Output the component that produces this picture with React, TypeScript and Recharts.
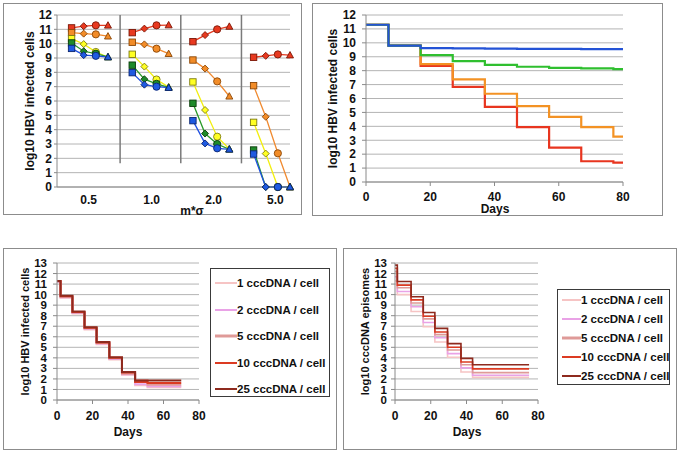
import React from "react";
import {
  LineChart,
  Line,
  XAxis,
  YAxis,
  CartesianGrid,
  ReferenceLine,
  Legend,
} from "recharts";

const FONT = '"Liberation Sans", Arial, Helvetica, sans-serif';
const GRID = "#b4b4b4";
const AXIS = "#8a8a8a";

// ---- panel A: log10 infected cells by m*sigma group, four markers per group
const doseLabels = ["0.5", "1.0", "2.0", "5.0"];
const doseTickPos = [2.6, 7.8, 12.9, 18.0];
const separatorPos = [5.2, 10.2, 15.2];
const redA = [11.1, 11.22, 11.28, 11.28, 10.77, 11.05, 11.28, 11.3, 10.14, 10.6, 11.0, 11.2, 9.05, 9.15, 9.25, 9.2];
const orangeA = [10.77, 10.7, 10.65, 10.52, 10.1, 9.95, 9.65, 9.3, 8.86, 8.26, 7.37, 6.33, 7.07, 4.9, 2.35, 0];
const yellowA = [10.35, 9.97, 9.42, 9.07, 9.26, 8.4, 7.5, 6.97, 7.33, 5.37, 3.51, 2.65, 4.51, 2.33, 0, 0];
const greenA = [10.05, 9.47, 9.3, 9.07, 8.5, 7.52, 7.2, 6.95, 5.84, 3.73, 3.0, 2.63, 2.58, 0, 0, 0];
const blueA = [9.67, 9.2, 9.15, 9.07, 7.98, 7.14, 7.0, 6.93, 4.63, 3.04, 2.7, 2.63, 2.3, 0, 0, 0];

// ---- panel B: step curves over days
const daysB = [0, 7, 17, 27, 37, 47, 57, 67, 77, 80];
const redB = [11.3, 9.8, 8.35, 6.84, 5.4, 3.94, 2.47, 1.49, 1.39, 1.39];
const orangeB = [11.3, 9.8, 8.47, 7.37, 6.34, 5.45, 4.68, 3.94, 3.26, 3.26];
const greenB = [11.3, 9.8, 9.12, 8.69, 8.42, 8.28, 8.2, 8.16, 8.11, 8.11];
const blueB = [11.3, 9.8, 9.62, 9.6, 9.58, 9.57, 9.56, 9.55, 9.55, 9.55];

// ---- panel C: infected cells per cccDNA copy number
const daysC = [0, 2, 8.7, 15.5, 22.3, 29.5, 36.6, 44, 51, 70];
const cells1 = [11.2, 9.7, 8.2, 6.7, 5.3, 3.85, 2.4, 1.4, 1.2, 1.2];
const cells2 = [11.2, 9.75, 8.25, 6.75, 5.35, 3.9, 2.45, 1.5, 1.3, 1.3];
const cells5 = [11.25, 9.8, 8.3, 6.8, 5.4, 3.95, 2.5, 1.9, 1.45, 1.45];
const cells10 = [11.3, 9.85, 8.35, 6.85, 5.45, 4.0, 2.6, 1.7, 1.62, 1.62];
const cells25 = [11.3, 9.9, 8.4, 6.9, 5.5, 4.05, 2.65, 1.85, 1.85, 1.85];

// ---- panel D: cccDNA episomes per copy number
const daysD = [0, 1.3, 9, 15.8, 22.3, 29.4, 36.9, 43.4, 75];
const epi1 = [11.3, 10.0, 8.4, 6.95, 5.5, 4.05, 2.65, 2.15, 2.15];
const epi2 = [11.7, 10.3, 8.85, 7.35, 5.9, 4.4, 3.05, 2.35, 2.35];
const epi5 = [12.2, 10.65, 9.2, 7.7, 6.2, 4.75, 3.35, 2.6, 2.6];
const epi10 = [12.5, 10.9, 9.5, 7.95, 6.45, 5.0, 3.6, 2.95, 2.95];
const epi25 = [12.8, 11.25, 9.8, 8.3, 6.8, 5.35, 3.95, 3.35, 3.35];

const copyNames = ["1 cccDNA / cell", "2 cccDNA / cell", "5 cccDNA / cell", "10 cccDNA / cell", "25 cccDNA / cell"];
const copyColors = ["#f6c4c4", "#e9a2e6", "#df9a98", "#dc3b22", "#8e2a1e"];

const ticks12 = [0, 1, 2, 3, 4, 5, 6, 7, 8, 9, 10, 11, 12];
const ticks13 = [...ticks12, 13];
const dayTicks = [0, 20, 40, 60, 80];

// build tables
const rowsA: any[] = [];
doseLabels.forEach((_, g) => {
  for (let p = 0; p < 4; p++) {
    const i = g * 4 + p;
    rowsA.push({ x: g * 5 + p + 1.2, p, red: redA[i], orange: orangeA[i], yellow: yellowA[i], green: greenA[i], blue: blueA[i] });
  }
  if (g < doseLabels.length - 1) rowsA.push({ x: g * 5 + 5.2, p: -1 }); // break between groups
});

const rowsB = daysB.map((d, i) => ({ day: d, red: redB[i], orange: orangeB[i], green: greenB[i], blue: blueB[i] }));
const seriesC = [cells1, cells2, cells5, cells10, cells25];
const rowsC = daysC.map((d, i) => {
  const r: any = { day: d };
  seriesC.forEach((s, k) => (r["s" + k] = s[i]));
  return r;
});
const seriesD = [epi1, epi2, epi5, epi10, epi25];
const rowsD = daysD.map((d, i) => {
  const r: any = { day: d };
  seriesD.forEach((s, k) => (r["s" + k] = s[i]));
  return r;
});

const styleA = [
  { key: "red", line: "#e23a20", fill: "#e8391f", edge: "#7a1606" },
  { key: "orange", line: "#f08a30", fill: "#f28c28", edge: "#8a4606" },
  { key: "yellow", line: "#f2ee10", fill: "#ffff22", edge: "#7d7a10" },
  { key: "green", line: "#2a9a2a", fill: "#1e8a2a", edge: "#0b3d0b" },
  { key: "blue", line: "#2050e0", fill: "#1f5ae0", edge: "#0b2570" },
];

const tickFont = { fill: "#111", fontSize: 12, fontWeight: 700, fontFamily: FONT };
const tickFontSm = { ...tickFont, fontSize: 11.5 };

function marker(fill: string, edge: string) {
  return (props: any) => {
    const { cx, cy, payload, index } = props;
    if (cx == null || cy == null || payload.p < 0) return <g key={index} />;
    const sw = 0.9;
    if (payload.p === 0)
      return <rect key={index} x={cx - 3.2} y={cy - 3.2} width={6.4} height={6.4} fill={fill} stroke={edge} strokeWidth={sw} />;
    if (payload.p === 1)
      return <polygon key={index} points={`${cx},${cy - 3.5} ${cx + 3.5},${cy} ${cx},${cy + 3.5} ${cx - 3.5},${cy}`} fill={fill} stroke={edge} strokeWidth={sw} />;
    if (payload.p === 2) return <circle key={index} cx={cx} cy={cy} r={3.6} fill={fill} stroke={edge} strokeWidth={sw} />;
    return <polygon key={index} points={`${cx},${cy - 3.6} ${cx + 3.5},${cy + 2.8} ${cx - 3.5},${cy + 2.8}`} fill={fill} stroke={edge} strokeWidth={sw} />;
  };
}

function yTitle(text: string, x: number, size: number) {
  return {
    content: (props: any) => {
      const vb = props.viewBox || {};
      const cy = vb.y + vb.height / 2;
      return (
        <text x={x} y={cy} transform={`rotate(-90 ${x} ${cy})`} textAnchor="middle" dominantBaseline="central"
          style={{ fontFamily: FONT, fontWeight: 700, fontSize: size, fill: "#111" }}>
          {text}
        </text>
      );
    },
  };
}

function xTitle(text: string, x: number, y: number, size: number) {
  return {
    content: () => (
      <text x={x} y={y} textAnchor="middle" style={{ fontFamily: FONT, fontWeight: 700, fontSize: size, fill: "#111" }}>
        {text}
      </text>
    ),
  };
}

function legendBox(w: number, h: number, rowH: number, padTop: number, lineW: number) {
  return (props: any) => {
    const items = [...(props.payload || [])].sort(
      (a: any, b: any) => copyNames.indexOf(a.value) - copyNames.indexOf(b.value)
    );
    return (
      <div style={{ width: w, height: h, boxSizing: "border-box", border: "1px solid #3a3a3a", background: "#fff", paddingTop: padTop, paddingLeft: 4 }}>
        {items.map((e: any) => (
          <div key={e.value} style={{ display: "flex", alignItems: "center", height: rowH }}>
            <svg width={lineW} height={6} style={{ flex: "none" }}>
              <line x1={0} y1={3} x2={lineW} y2={3} stroke={e.color} strokeWidth={e.value.startsWith("5 ") ? 3 : 2} />
            </svg>
            <span style={{ fontFamily: FONT, fontWeight: 700, fontSize: 11.5, color: "#111", whiteSpace: "nowrap" }}>{e.value}</span>
          </div>
        ))}
      </div>
    );
  };
}

const frame = (left: number, top: number, width: number, height: number): React.CSSProperties => ({
  position: "absolute", left, top, width, height, boxSizing: "border-box", border: "1px solid #8c8c8c", background: "#fff",
});
const at = (left: number, top: number): React.CSSProperties => ({ position: "absolute", left, top });

export default function App() {
  return (
    <div style={{ position: "absolute", left: 0, top: 0, width: 680, height: 455, background: "#fff", overflow: "hidden" }}>
      <div style={frame(3, 3, 299, 212)} />
      <div style={frame(312, 3, 351, 213)} />
      <div style={frame(3, 248, 334, 202)} />
      <div style={frame(343, 248, 334, 202)} />

      {/* A */}
      <div style={at(0, 0)}>
        <LineChart width={310} height={222} data={rowsA} margin={{ top: 15, right: 20, bottom: 0, left: 17 }}>
          <CartesianGrid vertical={false} stroke={GRID} />
          <XAxis type="number" dataKey="x" domain={[0, 19.2]} ticks={doseTickPos} interval={0}
            tickFormatter={(v: number) => doseLabels[doseTickPos.indexOf(v)]} tickLine={false} tickSize={0} tickMargin={8}
            height={35} stroke={AXIS} tick={tickFont} label={xTitle("m*σ", 192, 215, 12)} />
          <YAxis type="number" domain={[0, 12]} ticks={ticks12} interval={0} width={40} tickSize={3} tickMargin={2}
            stroke={AXIS} tick={tickFont} label={yTitle("log10 HBV infected cells", 30, 12)} />
          {separatorPos.map((s) => (
            <ReferenceLine key={s} segment={[{ x: s, y: 1.65 }, { x: s, y: 12 }]} stroke="#7a7a7a" strokeWidth={1.5} />
          ))}
          {styleA.map((s) => (
            <Line key={s.key} dataKey={s.key} stroke={s.line} strokeWidth={1.3} dot={marker(s.fill, s.edge)}
              activeDot={false} isAnimationActive={false} />
          ))}
        </LineChart>
      </div>

      {/* B */}
      <div style={at(312, 0)}>
        <LineChart width={360} height={222} data={rowsB} margin={{ top: 15, right: 49, bottom: 0, left: 14 }}>
          <CartesianGrid vertical={false} stroke={GRID} />
          <XAxis type="number" dataKey="day" domain={[0, 80]} ticks={dayTicks} interval={0} tickSize={4} tickMargin={6}
            height={40} stroke={AXIS} tick={tickFont} label={xTitle("Days", 183, 213, 12)} />
          <YAxis type="number" domain={[0, 12]} ticks={ticks12} interval={0} width={40} tickSize={4} tickMargin={6}
            stroke={AXIS} tick={tickFont} label={yTitle("log10 HBV infected cells", 21, 12)} />
          <Line type="stepAfter" dataKey="red" stroke="#e8351f" strokeWidth={2.2} dot={false} activeDot={false} isAnimationActive={false} />
          <Line type="stepAfter" dataKey="orange" stroke="#f39224" strokeWidth={2.2} dot={false} activeDot={false} isAnimationActive={false} />
          <Line type="stepAfter" dataKey="green" stroke="#2fbf2f" strokeWidth={2.2} dot={false} activeDot={false} isAnimationActive={false} />
          <Line type="stepAfter" dataKey="blue" stroke="#2453d6" strokeWidth={2.2} dot={false} activeDot={false} isAnimationActive={false} />
        </LineChart>
      </div>

      {/* C */}
      <div style={at(0, 240)}>
        <LineChart width={340} height={215} data={rowsC} margin={{ top: 23, right: 141, bottom: 0, left: 17 }}>
          <CartesianGrid vertical={false} stroke={GRID} />
          <XAxis type="number" dataKey="day" domain={[0, 80]} ticks={dayTicks} interval={0} tickSize={4} tickMargin={7}
            height={55} stroke={AXIS} tick={tickFont} label={xTitle("Days", 128, 196, 12)} />
          <YAxis type="number" domain={[0, 13]} ticks={ticks13} interval={0} width={40} tickSize={4} tickMargin={6}
            stroke={AXIS} tick={tickFontSm} label={yTitle("log10 HBV infected cells", 25, 11)} />
          <Legend layout="vertical" align="center" verticalAlign="middle" wrapperStyle={{ left: 210, top: 28 }}
            content={legendBox(120, 129, 26.5, 1, 22)} />
          {copyNames.map((n, k) => (
            <Line key={n} name={n} type="stepAfter" dataKey={"s" + k} stroke={copyColors[k]} strokeWidth={2}
              dot={false} activeDot={false} isAnimationActive={false} />
          ))}
        </LineChart>
      </div>

      {/* D */}
      <div style={at(340, 240)}>
        <LineChart width={340} height={215} data={rowsD} margin={{ top: 23, right: 142, bottom: 0, left: 15 }}>
          <CartesianGrid vertical={false} stroke={GRID} />
          <XAxis type="number" dataKey="day" domain={[0, 80]} ticks={dayTicks} interval={0} tickSize={4} tickMargin={7}
            height={55} stroke={AXIS} tick={tickFont} label={xTitle("Days", 127, 196, 12)} />
          <YAxis type="number" domain={[0, 13]} ticks={ticks13} interval={0} width={40} tickSize={4} tickMargin={4}
            stroke={AXIS} tick={tickFontSm} label={yTitle("log10 cccDNA episomes", 25, 11)} />
          <Legend layout="vertical" align="center" verticalAlign="middle" wrapperStyle={{ left: 217, top: 49 }}
            content={legendBox(113, 96, 18.8, 1, 19)} />
          {copyNames.map((n, k) => (
            <Line key={n} name={n} type="stepAfter" dataKey={"s" + k} stroke={copyColors[k]} strokeWidth={1.6}
              dot={false} activeDot={false} isAnimationActive={false} />
          ))}
        </LineChart>
      </div>
    </div>
  );
}
